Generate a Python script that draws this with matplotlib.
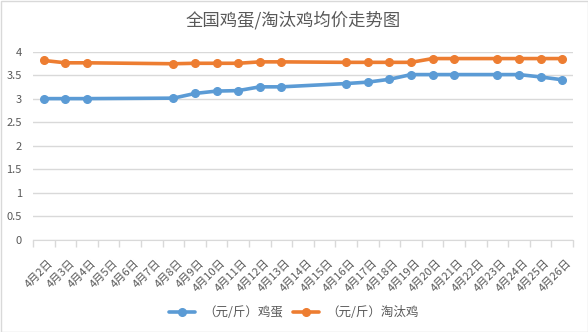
import matplotlib
matplotlib.use("Agg")
import matplotlib.pyplot as plt
from matplotlib.patches import Rectangle
from matplotlib.transforms import ScaledTranslation

plt.rcParams['font.family'] = ['Noto Sans CJK SC', 'DejaVu Sans']

dates = [f"4月{d}日" for d in range(2, 27)]
point_dates = ["4月2日", "4月3日", "4月4日", "4月8日", "4月9日", "4月10日", "4月11日",
               "4月12日", "4月13日", "4月16日", "4月17日", "4月18日", "4月19日",
               "4月20日", "4月21日", "4月23日", "4月24日", "4月25日", "4月26日"]
egg = [3.00, 3.00, 3.00, 3.01, 3.11, 3.16, 3.17, 3.25, 3.25, 3.32, 3.35, 3.41, 3.51,
       3.51, 3.51, 3.51, 3.51, 3.46, 3.40]
hen = [3.81, 3.76, 3.76, 3.74, 3.75, 3.75, 3.75, 3.78, 3.78, 3.77, 3.77, 3.77, 3.77,
       3.85, 3.85, 3.85, 3.85, 3.85, 3.85]
series_names = ["（元/斤）鸡蛋", "（元/斤）淘汰鸡"]
title = "全国鸡蛋/淘汰鸡均价走势图"
yticks = [0, 0.5, 1, 1.5, 2, 2.5, 3, 3.5, 4]

W, H = 588, 332
fig = plt.figure(figsize=(W / 100, H / 100), dpi=100)
ax = fig.add_axes([33 / W, 1 - 240 / H, (573 - 33) / W, (240 - 51.5) / H])

xpos = [dates.index(d) for d in point_dates]
blue = "#5B9BD5"
orange = "#ED7D31"
ax.plot(xpos, egg, color=blue, lw=2.6, marker="o", ms=5.5, label=series_names[0],
        solid_capstyle="round")
ax.plot(xpos, hen, color=orange, lw=2.6, marker="o", ms=5.5, label=series_names[1],
        solid_capstyle="round")

ax.set_xlim(-0.5, len(dates) - 0.5)
ax.set_ylim(0, 4)
ax.set_yticks(yticks)
ax.set_yticklabels([f"{v:g}" for v in yticks], fontsize=8, color="#595959")
ax.yaxis.grid(True, color="#D9D9D9", lw=1)
ax.set_axisbelow(True)
ax.tick_params(axis="y", length=0, pad=8)

ax.set_xticks(range(len(dates)))
ax.set_xticklabels(dates, rotation=45, ha="right", rotation_mode="anchor",
                   fontsize=8, color="#595959")
ax.tick_params(axis="x", length=0, pad=13)
offset = ScaledTranslation(4 / 100, 0, fig.dpi_scale_trans)
for lab in ax.get_xticklabels():
    lab.set_transform(lab.get_transform() + offset)
ax.set_xticks([i - 0.5 for i in range(len(dates) + 1)], minor=True)
ax.tick_params(axis="x", which="minor", length=5, color="#D9D9D9", width=1)

for s in ["top", "right", "left"]:
    ax.spines[s].set_visible(False)
ax.spines["bottom"].set_color("#D9D9D9")

fig.text(293 / W, 1 - 20 / H, title, ha="center", va="center", fontsize=12.5,
         color="#595959")

leg = fig.legend(loc="center", bbox_to_anchor=(294 / W, 1 - 313 / H), ncol=2,
                 frameon=False, fontsize=9, handlelength=2.1, columnspacing=0.8,
                 handletextpad=0.6, labelcolor="#595959")

fig.patches.append(Rectangle((0.5 / W, 0.5 / H), 1 - 1 / W, 1 - 1 / H,
                             transform=fig.transFigure, fill=False,
                             edgecolor="#D9D9D9", lw=1))

fig.savefig("out.png", dpi=100)
